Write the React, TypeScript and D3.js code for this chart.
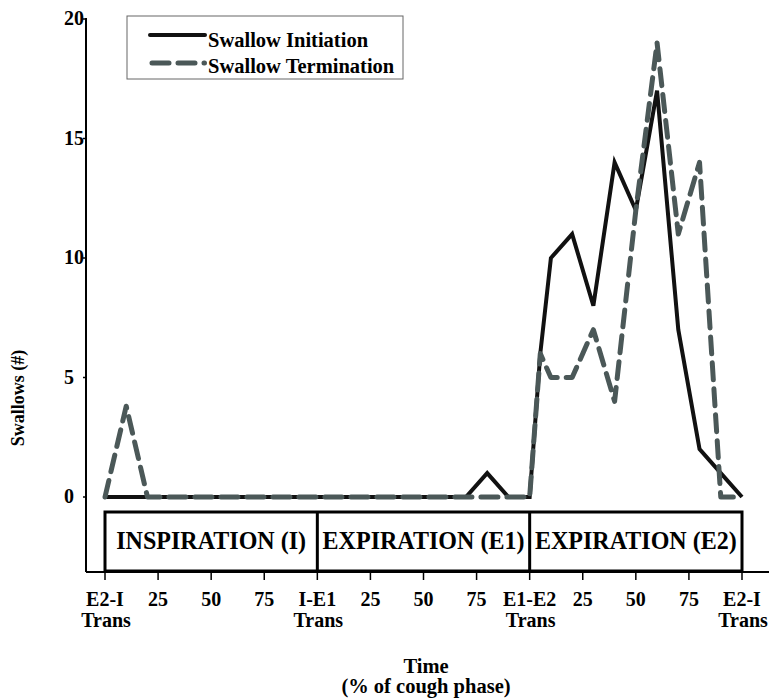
import * as d3 from "d3";

// x position: % through the three cough phases stacked (I 0-100, E1 100-200, E2 200-300)
const positions = [0, 10, 20, 30, 40, 50, 60, 70, 80, 90, 100, 110, 120, 130, 140, 150, 160, 170, 180, 190, 200, 205, 210, 220, 230, 240, 250, 260, 270, 280, 290, 300];
const initiation = [0, 0, 0, 0, 0, 0, 0, 0, 0, 0, 0, 0, 0, 0, 0, 0, 0, 0, 1, 0, 0, 6, 10, 11, 8, 14, 12, 17, 7, 2, 1, 0];
const termination = [0, 3.8, 0, 0, 0, 0, 0, 0, 0, 0, 0, 0, 0, 0, 0, 0, 0, 0, 0, 0, 0, 6, 5, 5, 7, 4, 12, 19, 11, 14, 0, 0];

const xTickPos = [0, 25, 50, 75, 100, 125, 150, 175, 200, 225, 250, 275, 300];
const xTickLabels = ["E2-I|Trans", "25", "50", "75", "I-E1|Trans", "25", "50", "75", "E1-E2|Trans", "25", "50", "75", "E2-I|Trans"];
const yTicks = [0, 5, 10, 15, 20];
const phases = ["INSPIRATION (I)", "EXPIRATION (E1)", "EXPIRATION (E2)"];
const phaseBounds = [0, 100, 200, 300];
const seriesNames = ["Swallow Initiation", "Swallow Termination"];

const W = 769;
const H = 698;
const font = "'Liberation Serif', 'Times New Roman', serif";
const grey = "#4b5858";
const dash = "17,9";

export default function App() {
  const x = d3.scaleLinear().domain([0, 300]).range([105, 742]);
  const y = d3.scaleLinear().domain([0, 20]).range([497, 19]);
  const axisX = 86;
  const axisY = 572;
  const boxTop = 512;

  const line = d3.line<number>()
    .x((d, i) => x(positions[i]))
    .y(d => y(d));

  return (
    <svg width={W} height={H} style={{position: "absolute", left: 0, top: 0, background: "#fff"}}
      fontFamily={font} fontWeight="bold">
      {/* y axis */}
      <line x1={axisX} x2={axisX} y1={y(20) - 1} y2={axisY} stroke="#000" strokeWidth={2} />
      {yTicks.map(t => (
        <g key={t}>
          <line x1={axisX - 3} x2={axisX} y1={y(t)} y2={y(t)} stroke="#000" strokeWidth={1.5} />
          <text x={64} y={y(t) - 1} dy="0.35em" textAnchor="start" fontSize={20}>{t}</text>
        </g>
      ))}
      <text transform={`translate(24,${398}) rotate(-90)`} textAnchor="middle" fontSize={18}>Swallows (#)</text>

      {/* x axis */}
      <line x1={axisX} x2={769} y1={axisY} y2={axisY} stroke="#000" strokeWidth={2} />
      {xTickPos.map((p, i) => {
        const parts = xTickLabels[i].split("|");
        return (
          <g key={i}>
            <line x1={x(p)} x2={x(p)} y1={axisY} y2={axisY + 8} stroke="#000" strokeWidth={1.5} />
            {parts.map((s, j) => (
              <text key={j} x={x(p) + j} y={606 + j * 21} textAnchor="middle" fontSize={20}>{s}</text>
            ))}
          </g>
        );
      })}
      <text x={426} y={673} textAnchor="middle" fontSize={20.5}>Time</text>
      <text x={426} y={693} textAnchor="middle" fontSize={20.5}>(% of cough phase)</text>

      {/* phase box */}
      <rect x={x(0)} y={boxTop} width={x(300) - x(0)} height={axisY - 1 - boxTop} fill="none" stroke="#000" strokeWidth={3} />
      {phaseBounds.slice(1, 3).map(b => (
        <line key={b} x1={x(b)} x2={x(b)} y1={boxTop} y2={axisY - 1} stroke="#000" strokeWidth={3} />
      ))}
      {phases.map((p, i) => (
        <text key={p} transform={`translate(${(x(phaseBounds[i]) + x(phaseBounds[i + 1])) / 2},549) scale(0.925,1)`}
          textAnchor="middle" fontSize={26}>{p}</text>
      ))}

      {/* series */}
      <path d={line(initiation) ?? ""} fill="none" stroke="#111" strokeWidth={4} strokeLinejoin="miter" />
      <path d={line(termination) ?? ""} fill="none" stroke={grey} strokeWidth={5} strokeDasharray={dash} strokeLinecap="round" strokeLinejoin="round" />

      {/* legend */}
      <rect x={127} y={16} width={276} height={63} fill="#fff" stroke="#666" strokeWidth={1} />
      <line x1={150} x2={205} y1={35} y2={35} stroke="#111" strokeWidth={4} strokeLinecap="round" />
      <text x={208} y={47} fontSize={20.5}>{seriesNames[0]}</text>
      <line x1={152} x2={204.5} y1={63} y2={63} stroke={grey} strokeWidth={5} strokeDasharray={dash} strokeLinecap="round" />
      <text x={208} y={73} fontSize={20.5}>{seriesNames[1]}</text>
    </svg>
  );
}
